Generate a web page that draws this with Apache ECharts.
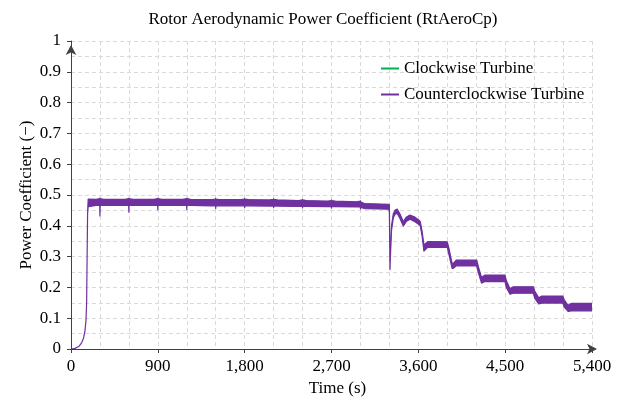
<!DOCTYPE html>
<html>
<head>
<meta charset="utf-8">
<script src="https://cdn.jsdelivr.net/npm/echarts@6/dist/echarts.min.js"></script>
<style>
html,body{margin:0;padding:0;background:#fff;}
#chart{width:624px;height:403px;}
</style>
</head>
<body>
<div id="chart"></div>
<script>
// ---- Data ----
var titleText = 'Rotor Aerodynamic Power Coefficient (RtAeroCp)';
var seriesNames = ['Clockwise Turbine', 'Counterclockwise Turbine'];
var xTicks = [0, 900, 1800, 2700, 3600, 4500, 5400];
var yTicks = [0, 0.1, 0.2, 0.3, 0.4, 0.5, 0.6, 0.7, 0.8, 0.9, 1];

// time (s) of envelope points
var timeS = [
  0, 40, 80, 110, 130, 145, 155, 162, 167, 172, 178,
  260, 298, 300, 302, 340,
  560, 598, 600, 602, 640,
  860, 898, 900, 902, 940,
  1160, 1198, 1200, 1202, 1240,
  1460, 1498, 1500, 1502, 1540,
  1760, 1798, 1800, 1802, 1840,
  2060, 2098, 2100, 2102, 2140,
  2360, 2398, 2400, 2402, 2440,
  2660, 2698, 2700, 2702, 2740,
  2960, 2998, 3000, 3002, 3040,
  3296, 3300, 3306, 3312, 3322, 3340, 3360, 3382, 3410, 3444, 3475, 3513, 3565, 3610, 3620,
  3640, 3658, 3700, 3900,
  3915, 3950, 3962, 3995, 4205,
  4220, 4255, 4290, 4498,
  4512, 4550, 4585, 4792,
  4806, 4848, 4880, 5097,
  5112, 5152, 5185, 5400
];
// upper edge of the oscillation band
var upperCp = [
  0.000, 0.002, 0.008, 0.020, 0.035, 0.060, 0.090, 0.150, 0.300, 0.440, 0.487,
  0.486, 0.488, 0.490, 0.488, 0.486,
  0.486, 0.488, 0.490, 0.488, 0.486,
  0.486, 0.488, 0.490, 0.488, 0.486,
  0.486, 0.488, 0.490, 0.488, 0.486,
  0.485, 0.487, 0.489, 0.487, 0.485,
  0.485, 0.487, 0.489, 0.487, 0.485,
  0.484, 0.486, 0.488, 0.486, 0.484,
  0.482, 0.484, 0.486, 0.484, 0.482,
  0.480, 0.482, 0.484, 0.482, 0.480,
  0.478, 0.480, 0.481, 0.478, 0.472,
  0.470, 0.468, 0.262, 0.330, 0.400, 0.438, 0.451, 0.454, 0.438, 0.413, 0.428, 0.435, 0.428, 0.417, 0.414,
  0.380, 0.338, 0.349, 0.348,
  0.330, 0.278, 0.278, 0.289, 0.289,
  0.270, 0.232, 0.240, 0.240,
  0.222, 0.196, 0.202, 0.202,
  0.188, 0.166, 0.172, 0.172,
  0.160, 0.142, 0.148, 0.148
];
// lower edge of the oscillation band
var lowerCp = [
  0.000, 0.002, 0.008, 0.020, 0.035, 0.060, 0.090, 0.150, 0.300, 0.440, 0.462,
  0.466, 0.466, 0.432, 0.466, 0.466,
  0.466, 0.466, 0.444, 0.466, 0.466,
  0.466, 0.466, 0.452, 0.466, 0.466,
  0.466, 0.466, 0.453, 0.466, 0.466,
  0.465, 0.465, 0.456, 0.465, 0.465,
  0.465, 0.465, 0.459, 0.465, 0.465,
  0.464, 0.464, 0.459, 0.464, 0.464,
  0.463, 0.463, 0.458, 0.463, 0.463,
  0.462, 0.462, 0.457, 0.462, 0.462,
  0.461, 0.461, 0.455, 0.460, 0.456,
  0.454, 0.440, 0.258, 0.310, 0.385, 0.425, 0.438, 0.440, 0.424, 0.399, 0.414, 0.421, 0.413, 0.403, 0.400,
  0.365, 0.318, 0.331, 0.330,
  0.310, 0.262, 0.262, 0.270, 0.2695,
  0.250, 0.214, 0.219, 0.219,
  0.200, 0.178, 0.181, 0.181,
  0.165, 0.146, 0.149, 0.149,
  0.136, 0.122, 0.124, 0.124
];

// ---- Build series ----
var bandRows = timeS.map(function (t, i) { return [t, lowerCp[i], upperCp[i]]; });

var colors = ['#00b050', '#7030a0'];
var FONT = '"Liberation Serif", "Times New Roman", serif';

function bandSeries(name, color, stroked) {
  return {
    name: name,
    type: 'custom',
    coordinateSystem: 'cartesian2d',
    data: bandRows,
    encode: { x: 0, y: [1, 2] },
    itemStyle: { color: color },
    clip: true,
    silent: true,
    renderItem: function (params, api) {
      if (params.dataIndex !== 0) return null;
      var pts = [];
      var i;
      for (i = 0; i < bandRows.length; i++) pts.push(api.coord([bandRows[i][0], bandRows[i][2]]));
      for (i = bandRows.length - 1; i >= 0; i--) pts.push(api.coord([bandRows[i][0], bandRows[i][1]]));
      return {
        type: 'polygon',
        shape: { points: pts },
        style: stroked
          ? { fill: color, stroke: color, lineWidth: 1.2, lineJoin: 'round' }
          : { fill: color, stroke: null, lineWidth: 0 }
      };
    }
  };
}

var gridLine = { show: true, lineStyle: { color: '#d9d9d9', type: [4, 3], width: 1 } };

var chart = echarts.init(document.getElementById('chart'), null, { renderer: 'canvas' });
chart.setOption({
  animation: false,
  backgroundColor: '#ffffff',
  title: {
    text: titleText, left: 318, top: 6, textAlign: 'center',
    textStyle: { fontFamily: FONT, fontSize: 17, fontWeight: 'normal', color: '#000' }
  },
  legend: {
    data: [
      { name: seriesNames[0], itemStyle: { color: colors[0] } },
      { name: seriesNames[1], itemStyle: { color: colors[1] } }
    ],
    orient: 'vertical', left: 376, top: 55, itemGap: 9,
    icon: 'rect', itemWidth: 18, itemHeight: 2,
    textStyle: { fontFamily: FONT, fontSize: 17, color: '#000' },
    selectedMode: false
  },
  grid: { left: 71, right: 32, top: 41, bottom: 54, containLabel: false, outerBoundsMode: 'none' },
  xAxis: {
    type: 'value', min: xTicks[0], max: xTicks[xTicks.length - 1], interval: xTicks[1] - xTicks[0],
    name: 'Time (s)', nameLocation: 'middle', nameGap: 31, nameMoveOverlap: false,
    nameTextStyle: { fontFamily: FONT, fontSize: 17, color: '#000', padding: [0, 0, 0, 12] },
    axisLine: { show: true, onZero: false, lineStyle: { color: '#404040', width: 1 },
      symbol: ['none', 'arrow'], symbolSize: [8, 10], symbolOffset: [0, 5] },
    axisTick: { show: true, inside: false, length: 4, lineStyle: { color: '#404040' } },
    minorTick: { show: false, splitNumber: 3 },
    axisLabel: {
      margin: 9, fontFamily: FONT, fontSize: 17, color: '#000',
      formatter: function (v) { return v.toString().replace(/\B(?=(\d{3})+(?!\d))/g, ','); }
    },
    splitLine: gridLine,
    minorSplitLine: gridLine
  },
  yAxis: {
    type: 'value', min: yTicks[0], max: yTicks[yTicks.length - 1], interval: 0.1,
    name: 'Power Coefficient (\u2212)', nameLocation: 'middle', nameGap: 36, nameRotate: 90,
    nameMoveOverlap: false,
    nameTextStyle: { fontFamily: FONT, fontSize: 17, color: '#000' },
    axisLine: { show: true, onZero: false, lineStyle: { color: '#404040', width: 1 },
      symbol: ['none', 'arrow'], symbolSize: [8, 10], symbolOffset: [0, -4] },
    axisTick: { show: true, inside: false, length: 4, lineStyle: { color: '#404040' } },
    minorTick: { show: false, splitNumber: 2 },
    axisLabel: {
      margin: 10, fontFamily: FONT, fontSize: 17, color: '#000',
      formatter: function (v) { return String(+v.toFixed(1)); }
    },
    splitLine: gridLine,
    minorSplitLine: gridLine
  },
  series: [bandSeries(seriesNames[0], colors[0], false), bandSeries(seriesNames[1], colors[1], true)]
});
</script>
</body>
</html>
